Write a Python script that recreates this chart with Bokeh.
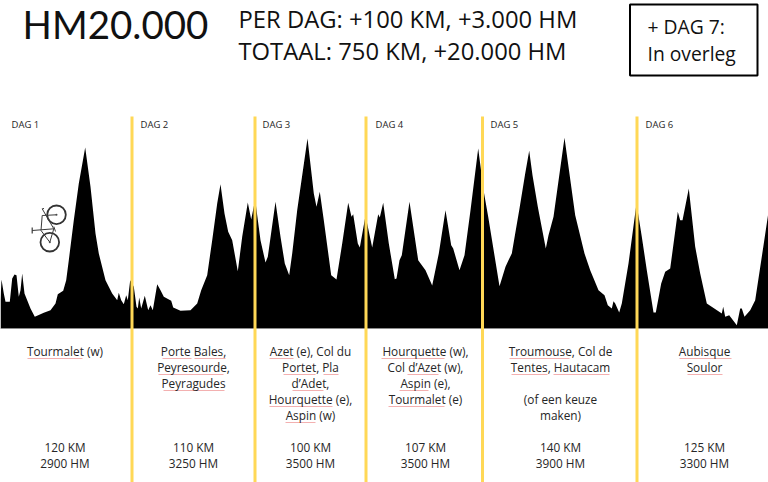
from bokeh.plotting import figure
from bokeh.models import Range1d
from bokeh.embed import file_html
from bokeh.resources import INLINE
from bokeh.core.properties import value

# Elevation silhouette (position along the strip, height above the base line)
profile_x = [0,1,3.3,5,9.3,11.7,14,16,18.3,20,21.7,24,26.7,30,34.3,43.3,50,55,57.3,62.7,65.7,68.3,73.3,78.3,84.7,90,95,98.3,105,111.7,116.7,118.3,120.7,123.3,125.7,127.3,129.7,133.3,136,137.3,138.7,140.7,144.3,147.7,150,152.3,156.7,160,163.3,170.7,172.7,180,190,196.7,200.7,206.7,211.7,216.7,220,224,227.7,231.7,237.3,241.7,247.3,250.7,254.7,
             256.7,260,265,267.3,275,280,284.3,288.7,291.7,296.7,307,313.3,316,319.3,323.3,330.7,336,341.7,347.7,351,352.7,357.3,359.3,365,371.7,377.7,379.3,382.7,388.3,394.3,396,399,401.3,409,417.7,425,431.7,438.3,445,450.7,452.7,459,464,470,477.7,483.3,487.7,499,505,
             508,511.3,514.7,518.7,524.7,528.7,532,537.3,545.3,548,553,564,574.7,584,589.7,598,604,607.3,611.3,613,614.7,618.7,621.3,628,636,641.3,646.3,653,655.3,660.7,664.7,669.7,677.3,679.7,682,688.3,694.7,699.7,706.3,721.3,722.7,724.7,728.7,736.3,739.7,741.3,744,749.7,754.7,761.3,768]
profile_h = [28.3,49,35,26.7,26.7,50,54,53.3,31.7,38.3,55,35,28.3,20,11.7,15.7,18.3,25,34.3,37.7,48.3,68.3,108.3,145,181,141.7,95,75,48.3,35,28.3,35.7,28.3,24.3,33.3,28.3,48.3,41.7,21.7,20,31,20,32.7,18.3,23.3,18.3,44.3,38.3,31.7,27.7,21,17.7,18.3,25,38.3,53.3,88.3,125,144.3,115,96.7,88.3,57.3,91.7,126,109,129,
             113.3,88.3,66,71.7,126.7,91.7,65,53.3,75,118.3,190,135,121.7,136.7,108.3,53.3,49,85,125.7,111.7,114.3,85,81,112.7,81,114.3,111,125.7,85,49.3,50,68.3,73.3,126.7,68.3,58.3,43,75,118.3,83.3,80,58.3,73.3,118.3,180,136.7,111.7,42.3,61.7,
             68.3,75,95,118.3,155,177.7,153.3,121.7,80,93.3,111.7,190.7,113.3,75,58.3,38.3,33.3,23.3,20,27.3,25,16,25,65,125,91.7,58.3,16,16,45,56.7,60,116.7,108.3,108.3,140,81.7,55,25,15,21.7,11.7,13.3,3.3,20,20,11.7,18.3,28.3,71.7,116.7]

day_separators = [131.5, 254.5, 365.5, 482, 636.5]
day_labels = ["DAG 1", "DAG 2", "DAG 3", "DAG 4", "DAG 5", "DAG 6"]
day_label_x = [11, 140, 262, 375, 490, 645]

col_centers = [64.5, 193, 310, 425, 560, 704]
col_lines = [
    ["Tourmalet (w)"],
    ["Porte Bales,", "Peyresourde,", "Peyragudes"],
    ["Azet (e), Col du", "Portet, Pla", "d\u2019Adet,", "Hourquette (e),", "Aspin (w)"],
    ["Hourquette (w),", "Col d\u2019Azet (w),", "Aspin (e),", "Tourmalet (e)"],
    ["Troumouse, Col de", "Tentes, Hautacam", "", "(of een keuze", "maken)"],
    ["Aubisque", "Soulor"],
]
day_km = ["120 KM", "110 KM", "100 KM", "107 KM", "140 KM", "125 KM"]
day_hm = ["2900 HM", "3250 HM", "3500 HM", "3500 HM", "3900 HM", "3300 HM"]

BASE = 328  # page row of the base line
FONT = value("Open Sans")
INK = "#262626"


def row(y):
    return BASE - y


p = figure(width=768, height=482, output_backend="svg", toolbar_location=None,
           x_range=Range1d(0, 768), y_range=Range1d(BASE - 482, BASE),
           min_border=0, outline_line_color=None)
p.axis.visible = False
p.grid.visible = False
p.background_fill_color = "white"

p.varea(profile_x, [0] * len(profile_x), profile_h, fill_color="black")
p.line([0, 768], [0, 0], line_color="#8c8c8c", line_width=1)

p.segment(day_separators, [row(116)] * 5, day_separators, [row(482)] * 5,
          line_color="#FFD856", line_width=3)

# header
p.text([22], [row(23.5)], ["HM20.000"], text_font=value("Lato"), text_font_size="38.5px",
       text_color="#111111", text_baseline="middle", text_align="left")
p.text([238, 238], [row(18.5), row(50.5)],
       ["PER DAG: +100 KM, +3.000 HM", "TOTAAL: 750 KM, +20.000 HM"],
       text_font=FONT, text_font_size="23.8px", text_color="#111111",
       text_baseline="middle", text_align="left")
p.quad(left=[629.5], right=[757], top=[row(4)], bottom=[row(75)], fill_color=None,
       line_color="black", line_width=2)
p.text([647, 647], [row(26), row(53)], ["+ DAG 7:", "In overleg"], text_font=FONT,
       text_font_size="19.3px", text_color="#111111", text_baseline="middle", text_align="left")

# day labels
p.text(day_label_x, [row(124)] * 6, day_labels, text_font=FONT, text_font_size="9.5px",
       text_color=INK, text_baseline="middle", text_align="left")

# spell-check marks under the climb names
squiggles = [
    (27, 82, 358), (162, 191, 358), (194, 225, 358), (158, 223, 374), (163, 224, 390),
    (269, 293, 358), (283, 315, 374), (323, 338, 374), (292, 323, 390), (269, 332, 406), (285, 315, 422),
    (381, 444, 358), (407, 438, 374), (399, 428, 390), (388, 444, 406),
    (509, 569, 358), (511, 547, 374), (553, 609, 374), (679, 731, 358), (687, 722, 374),
]
p.segment([s[0] for s in squiggles], [row(s[2]) for s in squiggles],
          [s[1] for s in squiggles], [row(s[2]) for s in squiggles],
          line_color="#f3b0b0", line_width=1)

# climb lists and day totals
xs, ys, ts = [], [], []
for cx, lines, km, hm in zip(col_centers, col_lines, day_km, day_hm):
    for i, t in enumerate(lines):
        if t:
            xs.append(cx); ys.append(row(350.5 + 16 * i)); ts.append(t)
    xs += [cx, cx]; ys += [row(446.5), row(462.5)]; ts += [km, hm]
p.text(xs, ys, ts, text_font=FONT, text_font_size="11.8px", text_color=INK,
       text_baseline="middle", text_align="center")

# bicycle icon
p.circle([56, 49.3], [row(214.3), row(241.7)], radius=9.3, fill_color=None,
         line_color="#333333", line_width=1.8)
p.circle([56, 49.3], [row(214.3), row(241.7)], radius=1, fill_color="#555555", line_color=None)
fx0 = [31.7, 41.7, 56, 41.7, 40.5, 53.3, 41.7, 53.3]
fy0 = [230, 208.3, 214.3, 215, 230, 228.3, 208.3, 226]
fx1 = [53.3, 53.3, 41.7, 40.5, 49.3, 49.3, 43.5, 55]
fy1 = [228.3, 228.3, 215, 230, 241.7, 241.7, 208, 231]
p.segment(fx0, [row(v) for v in fy0], fx1, [row(v) for v in fy1], line_color="#3a3a3a", line_width=1)
p.segment([31.7, 52], [row(227)], [31.7, 55], [row(233)], line_color="#3a3a3a", line_width=1.2)

open("out.html", "w").write(file_html(p, INLINE))
